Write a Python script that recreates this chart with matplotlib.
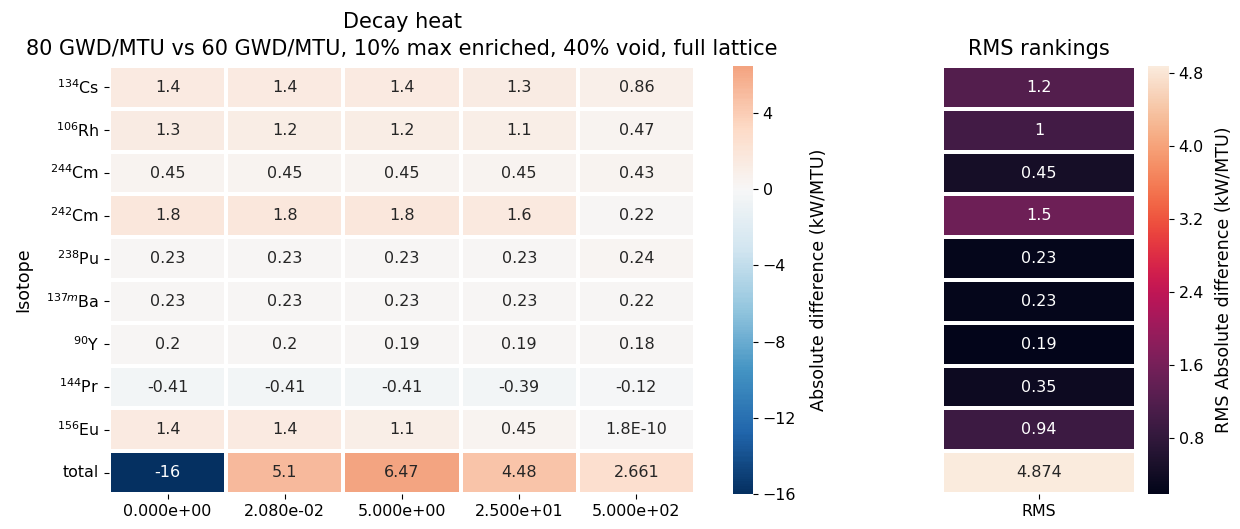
import numpy as np
import matplotlib
matplotlib.use("Agg")
import matplotlib.pyplot as plt
import seaborn as sns

isotopes = [r"$^{134}$Cs", r"$^{106}$Rh", r"$^{244}$Cm", r"$^{242}$Cm", r"$^{238}$Pu",
            r"$^{137m}$Ba", r"$^{90}$Y", r"$^{144}$Pr", r"$^{156}$Eu", "total"]
times = ["0.000e+00", "2.080e-02", "5.000e+00", "2.500e+01", "5.000e+02"]

diff = np.array([
    [1.4, 1.4, 1.4, 1.3, 0.86],
    [1.3, 1.2, 1.2, 1.1, 0.47],
    [0.45, 0.45, 0.45, 0.45, 0.43],
    [1.8, 1.8, 1.8, 1.6, 0.22],
    [0.23, 0.23, 0.23, 0.23, 0.24],
    [0.23, 0.23, 0.23, 0.23, 0.22],
    [0.2, 0.2, 0.19, 0.19, 0.18],
    [-0.41, -0.41, -0.41, -0.39, -0.12],
    [1.4, 1.4, 1.1, 0.45, 1.8e-10],
    [-16, 5.1, 6.47, 4.48, 2.661],
])
diff_labels = np.array([
    ["1.4", "1.4", "1.4", "1.3", "0.86"],
    ["1.3", "1.2", "1.2", "1.1", "0.47"],
    ["0.45", "0.45", "0.45", "0.45", "0.43"],
    ["1.8", "1.8", "1.8", "1.6", "0.22"],
    ["0.23", "0.23", "0.23", "0.23", "0.24"],
    ["0.23", "0.23", "0.23", "0.23", "0.22"],
    ["0.2", "0.2", "0.19", "0.19", "0.18"],
    ["-0.41", "-0.41", "-0.41", "-0.39", "-0.12"],
    ["1.4", "1.4", "1.1", "0.45", "1.8E-10"],
    ["-16", "5.1", "6.47", "4.48", "2.661"],
])

rms = np.array([1.2, 1.0, 0.45, 1.5, 0.23, 0.23, 0.19, 0.35, 0.94, 4.874])
rms_labels = ["1.2", "1", "0.45", "1.5", "0.23", "0.23", "0.19", "0.35", "0.94", "4.874"]

W, H = 1240, 529
fig = plt.figure(figsize=(W / 100, H / 100), dpi=100)

TICK = 11.4
ANNOT = 11.5
LABEL = 12.6
TITLE = 15


def box(x0, x1, y0, y1):
    return [x0 / W, (H - y1) / H, (x1 - x0) / W, (y1 - y0) / H]


ax1 = fig.add_axes(box(109, 695, 66, 494))
cax1 = fig.add_axes(box(733, 753, 66, 494))
ax2 = fig.add_axes(box(942, 1136, 66, 494))
cax2 = fig.add_axes(box(1148, 1169, 66, 494))

sns.heatmap(diff, ax=ax1, cbar_ax=cax1, cmap="RdBu_r", center=0,
            annot=diff_labels, fmt="", linewidths=1.5, linecolor="white",
            xticklabels=times, yticklabels=isotopes,
            annot_kws={"fontsize": ANNOT},
            cbar_kws={"ticks": [-16, -12, -8, -4, 0, 4]})
ax1.set_ylabel("Isotope", fontsize=LABEL, labelpad=10)
ax1.set_title("Decay heat\n80 GWD/MTU vs 60 GWD/MTU, 10% max enriched, 40% void, full lattice",
              fontsize=TITLE, linespacing=1.4, pad=8)
ax1.set_yticklabels(isotopes, rotation=0, fontsize=TICK)
ax1.set_xticklabels(times, rotation=0, fontsize=TICK)
cax1.set_yticklabels(["\u221216", "\u221212", "\u22128", "\u22124", "0", "4"], fontsize=TICK)
cax1.set_ylabel("Absolute difference (kW/MTU)", fontsize=LABEL, labelpad=10)

sns.heatmap(rms.reshape(-1, 1), ax=ax2, cbar_ax=cax2,
            annot=np.array(rms_labels).reshape(-1, 1), fmt="",
            linewidths=1.5, linecolor="white",
            xticklabels=["RMS"], yticklabels=False,
            annot_kws={"fontsize": ANNOT},
            cbar_kws={"ticks": [0.8, 1.6, 2.4, 3.2, 4.0, 4.8]})
ax2.set_title("RMS rankings", fontsize=TITLE, pad=8)
ax2.set_xticklabels(["RMS"], rotation=0, fontsize=TICK)
cax2.set_yticklabels(["0.8", "1.6", "2.4", "3.2", "4.0", "4.8"], fontsize=TICK)
cax2.set_ylabel("RMS Absolute difference (kW/MTU)", fontsize=LABEL, labelpad=8)

fig.savefig("out.png", dpi=100)
